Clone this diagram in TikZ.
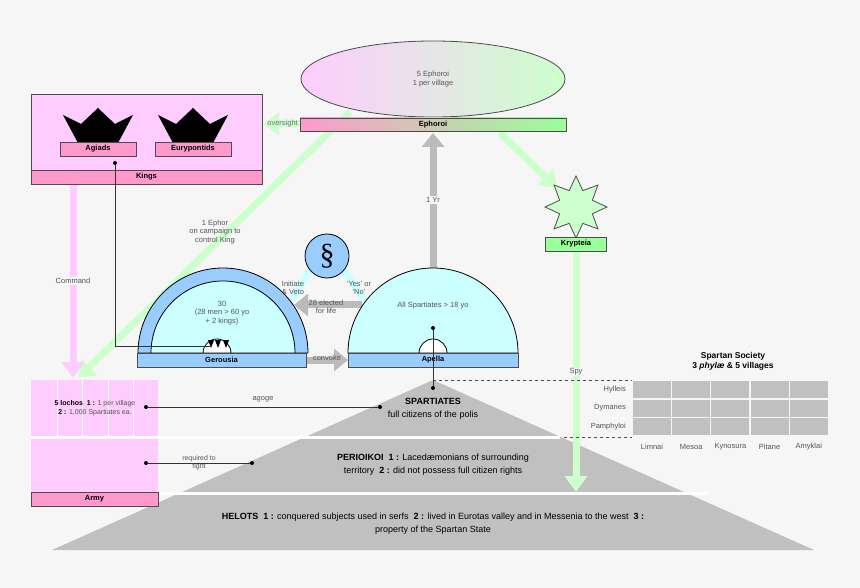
\documentclass[tikz,border=0pt]{standalone}
\usepackage{fontspec}
\setmainfont{Liberation Sans}
\newfontfamily\serifsec{Liberation Serif}
\usetikzlibrary{arrows.meta,shapes.geometric}
\definecolor{bg}{HTML}{F6F6F6}
\definecolor{lpink}{HTML}{FFCCFF}
\definecolor{dpink}{HTML}{FF99CC}
\definecolor{lgreen}{HTML}{CCFFCC}
\definecolor{mgreen}{HTML}{99FF99}
\definecolor{lblue}{HTML}{99CCFF}
\definecolor{lcyan}{HTML}{CCFFFF}
\definecolor{pgray}{HTML}{C0C0C0}
\definecolor{tgray}{HTML}{555555}
\definecolor{agray}{HTML}{BBBBBB}
\tikzset{
 sm/.style={font=\fontsize{7.5}{8.5}\selectfont,text=tgray,align=center,inner sep=0},
 bl/.style={font=\bfseries\fontsize{7.5}{8.5}\selectfont,inner sep=0},
 py/.style={font=\fontsize{9}{13}\selectfont,align=center,inner sep=0},
 bar/.style={draw=black!70,line width=0.8pt},
 garrow/.style={draw=lgreen,line width=7pt,-{Triangle[length=16pt,width=22pt]}},
 gyarrow/.style={draw=agray,line width=7pt,-{Triangle[length=14pt,width=22pt]}},
 parrow/.style={draw=lpink,line width=7pt,-{Triangle[length=16pt,width=22pt]}},
 dot/.style={circle,fill=black,inner sep=0,minimum size=4pt},
 conn/.style={line width=0.8pt,black!80},
}
\begin{document}
\begin{tikzpicture}[x=1pt,y=-1pt]
\fill[bg] (0,0) rectangle (860,588);
\useasboundingbox (0,0) rectangle (860,588);
% pyramid
\fill[pgray] (433,380) -- (52,550) -- (814,550) -- cycle;
\draw[white,line width=3pt] (155,437) -- (560,437);
\draw[white,line width=3pt] (155,493) -- (708,493);
% army
\fill[lpink] (31,380) rectangle (158,492);
\foreach \x in {57,82,108,133} \draw[white,line width=1pt] (\x,380) -- (\x,436);
\draw[white,line width=3pt] (31,437) -- (158,437);
\node[bar,fill=dpink,minimum width=127pt,minimum height=14pt,inner sep=0,bl] (army) at (94.5,499) {Army};
\node[font=\fontsize{7}{9}\selectfont,align=center] (loch) at (95,408) {\textbf{5 lochos\ \ 1 :} \textcolor{tgray}{1 per village}\\\textbf{2 :} \textcolor{tgray}{1,000 Spartiates ea.}};
% pyramid texts
\node[py] (spt) at (433,409) {\textbf{SPARTIATES}\\full citizens of the polis};
\node[py] (peri) at (433,465) {\textbf{PERIOIKOI\ \ 1 :} Lacedæmonians of surrounding\\territory\ \ \textbf{2 :} did not possess full citizen rights};
\node[py] (hel) at (433,524) {\textbf{HELOTS\ \ 1 :} conquered subjects used in serfs\ \ \textbf{2 :} lived in Eurotas valley and in Messenia to the west\ \ \textbf{3 :}\\property of the Spartan State};
% agoge etc
\node[dot] (a1) at (146,407) {}; \node[dot] (a2) at (380,407) {};
\draw[conn] (a1) -- (a2);
\node[sm] (agl) at (263,399) {agoge};
\node[dot] (r1) at (146,463) {}; \node[dot] (r2) at (252,463) {};
\draw[conn] (r1) -- (r2);
\node[sm,font=\fontsize{7}{8}\selectfont] (rql) at (199,463) {required to\\fight};
% Kings
\node[bar,fill=lpink,minimum width=231pt,minimum height=90pt,inner sep=0] (kbox) at (146.5,139) {};
\node[bar,fill=dpink,minimum width=231pt,minimum height=14pt,inner sep=0,bl] (kings) at (146.5,177) {Kings};
\foreach \cx/\nm in {98/c1,193/c2}{
 \fill (\cx-35,115) -- (\cx-17,124) -- (\cx,108) -- (\cx+17,124) -- (\cx+35,115) -- (\cx+20,143) -- (\cx-20,143) -- cycle;
}
\node[bar,fill=dpink,minimum width=76pt,minimum height=14pt,inner sep=0,bl] (agiads) at (98,149) {Agiads};
\node[bar,fill=dpink,minimum width=76pt,minimum height=14pt,inner sep=0,bl] (eury) at (193,149) {Eurypontids};
% green arrows
\draw[garrow] (350,112) -- (78,378);
\draw[garrow] (300,124) -- (263,124);
\node[sm,text=black!55,anchor=east] (ovl) at (298,124) {oversight};
\draw[garrow] (500,133) -- (557,188);
\draw[parrow] (73,185) -- (73,378);
\node[sm,fill=bg,inner sep=1pt] (cml) at (73,281) {Command};
% Ephoroi
\node[ellipse,draw=black!70,line width=0.8pt,left color=lpink,right color=lgreen,minimum width=264pt,minimum height=76pt] (ell) at (433,79) {};
\node[sm] (ell t) at (433,79) {5 Ephoroi\\1 per village};
\node[bar,left color=dpink,right color=mgreen,minimum width=266pt,minimum height=13pt,inner sep=0,bl] (eph) at (433,124.5) {Ephoroi};
% star & krypteia
\draw[lgreen,line width=7pt,-{Triangle[length=16pt,width=22pt]}] (576,250) -- (576,492);
\node[sm,fill=bg,inner sep=1pt] (spy) at (576,372) {Spy};
\node[star,star points=8,star point ratio=1.75,draw=black!70,line width=0.8pt,fill=lgreen,minimum size=62pt,inner sep=0] (star) at (576,207) {};
\node[bar,fill=mgreen,minimum width=61pt,minimum height=14pt,inner sep=0,bl] (kry) at (576,244) {Krypteia};
% 1 Yr
\draw[gyarrow] (433,270) -- (433,133);
\node[sm,fill=bg,inner sep=1pt] (yr) at (433,200) {1 Yr};
% section symbol and cyan lines
\draw[lcyan,line width=7pt] (310,270) -- (292,300);
\draw[lcyan,line width=7pt] (344,270) -- (364,300);
\node[circle,draw=black,line width=0.8pt,fill=lblue,minimum size=44pt,inner sep=0,font=\serifsec\fontsize{30}{30}\selectfont] (sec) at (327,256) {\S};
\node[sm] (iv) at (293,288) {Initiate\\\& Veto};
\node[sm] (yn) at (359,288) {`Yes' or\\`No'};
% gray arrows
\draw[gyarrow] (362,305) -- (294,305);
\node[sm] (el) at (326,307) {28 elected\\for life};
\draw[gyarrow] (306,360) -- (348,360);
\node[sm,inner sep=1pt] (cv) at (327,358) {convoke};
% Gerousia
\filldraw[fill=lblue,draw=black,line width=0.8pt] (138,353) arc[start angle=180,end angle=360,radius=85] -- cycle;
\filldraw[fill=lcyan,draw=black,line width=0.8pt] (151,353) arc[start angle=180,end angle=360,radius=72] -- cycle;
\filldraw[fill=white,draw=black,line width=0.8pt] (203,353) arc[start angle=180,end angle=360,radius=14] -- cycle;
\foreach \tx in {211,218,226} \fill (\tx-3,340) -- (\tx+3,340) -- (\tx,348) -- cycle;
\node[sm] (gt) at (222,313) {30\\(28 men > 60 yo\\+ 2 kings)};
\node[bar,fill=lblue,minimum width=169pt,minimum height=14pt,inner sep=0,bl] (ger) at (221.5,360) {Gerousia};
\node[sm] (eph1) at (215,232) {1 Ephor\\on campaign to\\control King};
% line from Agiads
\node[dot] (ag d) at (115,163) {};
\coordinate (gk) at (210,346);
\draw[conn] (ag d) |- (gk);
% Apella
\filldraw[fill=lcyan,draw=black,line width=0.8pt] (348,353) arc[start angle=180,end angle=360,radius=85] -- cycle;
\filldraw[fill=white,draw=black,line width=0.8pt] (419,353) arc[start angle=180,end angle=360,radius=14] -- cycle;
\node[sm] (at) at (433,306) {All Spartiates > 18 yo};
\node[bar,fill=lblue,minimum width=170pt,minimum height=14pt,inner sep=0,bl] (apella) at (433,360) {Apella};
\node[dot] (ap d) at (433,328) {};
\node[dot] (sp d) at (433,388) {};
\draw[conn] (ap d) -- (sp d);
% dashed
\draw[dashed,black!70,line width=0.8pt] (433,380) -- (632,380);
\draw[dashed,black!70,line width=0.8pt] (564,437) -- (632,437);
% table
\foreach \c in {0,...,4} \foreach \r/\ry in {0/381,1/399.5,2/418}
 \fill[pgray] (633+\c*39.2,\ry) rectangle (633+\c*39.2+38,\ry+17);
\node[sm,anchor=east] (h1) at (626,389.5) {Hylleis};
\node[sm,anchor=east] (h2) at (626,408) {Dymanes};
\node[sm,anchor=east] (h3) at (626,426.5) {Pamphyloi};
\foreach \c/\v in {0/Limnai,1/Mesoa,2/Kynosura,3/Pitane,4/Amyklai}
 \node[sm] (v\c) at (652+\c*39.2,447) {\v};
\node[font=\bfseries\fontsize{8.5}{10}\selectfont,align=center] (sst) at (733,361) {Spartan Society\\3 \textit{phylæ} \& 5 villages};
\end{tikzpicture}
\end{document}
